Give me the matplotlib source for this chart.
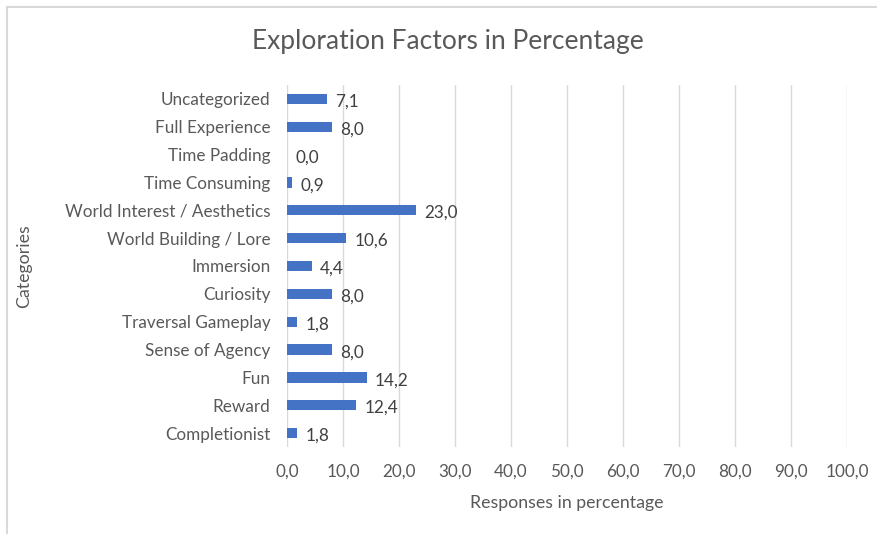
import matplotlib
matplotlib.use("Agg")
import matplotlib.pyplot as plt
from matplotlib.ticker import FuncFormatter, MultipleLocator

categories = ["Completionist", "Reward", "Fun", "Sense of Agency", "Traversal Gameplay",
              "Curiosity", "Immersion", "World Building / Lore", "World Interest / Aesthetics",
              "Time Consuming", "Time Padding", "Full Experience", "Uncategorized"]
values = [1.8, 12.4, 14.2, 8.0, 1.8, 8.0, 4.4, 10.6, 23.0, 0.9, 0.0, 8.0, 7.1]

TXT = "#595959"
plt.rcParams['font.family'] = ['Lato', 'DejaVu Sans']

fig = plt.figure(figsize=(8.78, 5.34), dpi=100)
ax = fig.add_axes([287/878, 1-447/534, (847-287)/878, (447-85)/534])

y = list(range(len(categories)))
ax.barh(y, values, height=0.37, color="#4472C4", zorder=3)
for yi, v in zip(y, values):
    ax.annotate(f"{v:.1f}".replace(".", ","), (v, yi), xytext=(6, -2), textcoords="offset points",
                ha="left", va="center", fontsize=12.3, color="#404040")

ax.set_xlim(0, 100)
ax.set_ylim(-0.5, len(categories)-0.5)
ax.set_yticks(y)
ax.set_yticklabels(categories)
ax.xaxis.set_major_locator(MultipleLocator(10))
ax.xaxis.set_major_formatter(FuncFormatter(lambda v, p: f"{v:.1f}".replace(".", ",")))
ax.grid(axis="x", color="#D9D9D9", linewidth=1, zorder=0)
for s in ax.spines.values():
    s.set_visible(False)
ax.tick_params(axis="both", length=0, labelsize=12.3, labelcolor=TXT)
ax.tick_params(axis="x", pad=12)
ax.tick_params(axis="y", pad=12)
ax.set_xlabel("Responses in percentage", fontsize=12.8, color=TXT, labelpad=11)
ax.set_ylabel("Categories", fontsize=12.8, color=TXT)
ax.yaxis.set_label_coords((32-287)/560, 0.5)
fig.text(448/878, 1-42/534, "Exploration Factors in Percentage", ha="center", va="center",
         fontsize=19, color=TXT)

# chart border lines (top and left)
fig.add_artist(plt.Line2D([7/878, 1], [1-7/534, 1-7/534], color="#D9D9D9", lw=1.5, transform=fig.transFigure))
fig.add_artist(plt.Line2D([7/878, 7/878], [0, 1-7/534], color="#D9D9D9", lw=1.5, transform=fig.transFigure))

fig.savefig("out.png", dpi=100, facecolor="white")
